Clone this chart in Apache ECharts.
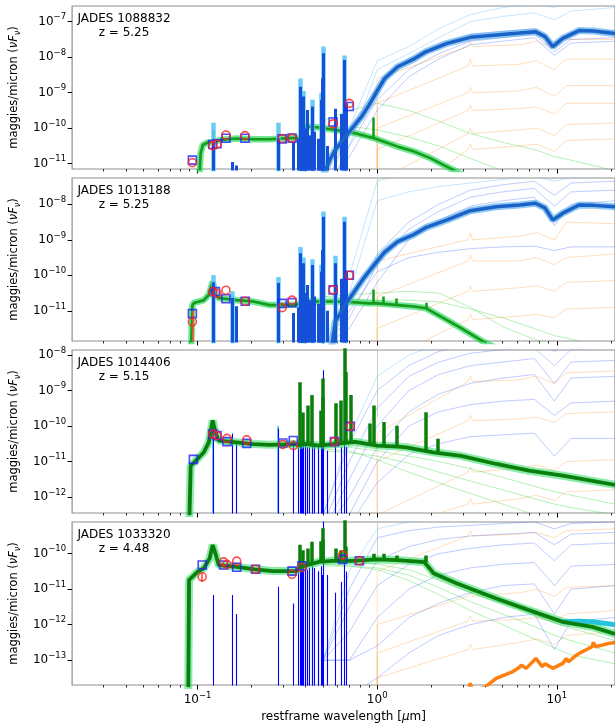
<!DOCTYPE html>
<html><head><meta charset="utf-8">
<script src="https://cdn.jsdelivr.net/npm/echarts@6.0.0/dist/echarts.min.js"></script>
<style>html,body{margin:0;padding:0;background:#fff;}#chart{width:615px;height:725px;}</style>
</head><body><div id="chart"></div>
<script>
// ===================== DATA (fluxes stored as log10 of maggies/micron) =====================
const panelNames = ['JADES 1088832', 'JADES 1013188', 'JADES 1014406', 'JADES 1033320'];
const panelRedshifts = ['z = 5.25', 'z = 5.25', 'z = 5.15', 'z = 4.48'];
const lamRange = [0.02, 21.1];
const xMajorTicks = [0.1, 1, 10];
const xMinorTicks = [0.03,0.04,0.05,0.06,0.07,0.08,0.09,0.2,0.3,0.4,0.5,0.6,0.7,0.8,0.9,2,3,4,5,6,7,8,9,20];
const yMinVals = [7.08e-12, 1.41e-12, 3.54e-13, 2.0e-14];
const yMaxVals = [2.77e-7, 5.51e-8, 1.384e-8, 7.82e-10];
const yTickVals = [[1e-11,1e-10,1e-9,1e-8,1e-7],[1e-11,1e-10,1e-9,1e-8],[1e-12,1e-11,1e-10,1e-9,1e-8],[1e-13,1e-12,1e-11,1e-10]];
const spikeFloorLogF = -14.5;

// shared wavelength grids
const irGrid  = [0.5, 0.7, 1.0, 1.5, 2.2, 3.3, 5, 7.5, 9.7, 12, 21.1];
const pahGrid = [1.0, 1.0, 3.2, 3.3, 3.4, 6.2, 7.7, 9.7, 11.3, 21.1];
const emLineLam = [0.1216,0.155,0.164,0.28,0.3426,0.3646,0.3727,0.3798,0.3835,0.3869,0.3889,0.397,0.4069,0.4102,0.42,0.434,0.4363,0.4471,0.4686,0.4713,0.4861,0.4959,0.5007,0.527,0.5876,0.63,0.6563,0.6724];

// ---------- Panel 1 ----------
const p1ObsLam  = [0.0935, 0.1213, 0.1283, 0.1438, 0.1835, 0.2958, 0.3356, 0.568, 0.699];
const p1ObsLogF = [-10.97, -10.49, -10.445, -10.19, -10.21, -10.29, -10.28, -9.88, -9.30];
const p1ModLam  = [0.0935, 0.1213, 0.1283, 0.1438, 0.1835, 0.2958, 0.3356, 0.568, 0.699];
const p1ModLogF = [-10.90, -10.46, -10.44, -10.285, -10.285, -10.30, -10.28, -9.825, -9.39];
const p1GreenLam  = [0.1017,0.1039,0.107,0.113,0.123,0.134,0.165,0.204,0.252,0.324,0.376,0.392,0.474,0.586,0.754,0.971,1.304,1.61,1.99,2.35,2.67,3.2];
const p1GreenLogF = [-11.6,-10.71,-10.47,-10.41,-10.38,-10.33,-10.29,-10.31,-10.31,-10.28,-10.27,-9.95,-9.98,-10.05,-10.14,-10.29,-10.52,-10.66,-10.85,-11.04,-11.18,-11.4];
const p1GreenLineLam  = [0.1216, 0.9532];
const p1GreenLineBase = [-10.38, -10.3];
const p1GreenLinePeak = [-10.05, -9.7];
const p1BlueLam  = [0.494,0.55,0.585,0.69,0.82,0.9,1.0,1.1,1.3,1.6,1.875,2.45,3.3,4.6,6.2,7.6,8.6,9.5,10.8,13.3,16,21.1];
const p1BlueLogF = [-11.4,-10.85,-10.61,-10.14,-9.67,-9.35,-8.95,-8.6,-8.27,-8.05,-7.84,-7.61,-7.44,-7.375,-7.32,-7.28,-7.42,-7.70,-7.47,-7.25,-7.26,-7.33];
const p1BlueLinePeak = [-10.4,-10.95,-11.05,-10.3,-10.4,-10.3,-8.83,-10.1,-10.2,-9.11,-9.9,-10.0,-10.3,-9.49,-10.2,-9.39,-10.0,-10.1,-10.3,-10.4,-9.2,-8.6,-7.89,-10.5,-9.45,-9.6,-8.08,-9.3];
const p1HaloLam  = [0.1216, 0.28, 0.3727, 0.3869, 0.434, 0.4861, 0.5007, 0.6563];
const p1HaloPeak = [-9.85, -9.85, -8.6, -8.95, -9.2, -9.0, -7.7, -7.95];
const p1ThinBlue = [
  [-12,-10.5,-9.2,-8.35,-7.9,-7.55,-7.45,-7.35,-7.85,-7.5,-7.45],
  [-12,-10.8,-9.5,-8.55,-8.05,-7.65,-7.55,-7.45,-7.95,-7.6,-7.55],
  [-11.8,-10.0,-8.85,-8.05,-7.65,-7.35,-7.27,-7.2,-7.6,-7.3,-7.25]];
const p1ThinCyan = [
  [-12,-10.0,-8.1,-7.7,-7.2,-6.8,-6.6,-6.5,-6.6,-6.4,-6.3],
  [-12,-10.5,-8.35,-7.9,-7.45,-7.0,-6.85,-6.75,-6.95,-6.7,-6.6]];
const p1ThinOrange = [
  [-13,-8.6,-7.7,-7.55,-7.7,-7.65,-7.55,-7.75,-7.5,-7.5],
  [-13,-9.3,-8.25,-8.05,-8.25,-8.2,-8.1,-8.35,-8.05,-8.05],
  [-13,-10.0,-9.0,-8.85,-9.0,-8.95,-8.85,-9.1,-8.8,-8.8],
  [-13,-10.6,-9.5,-9.35,-9.5,-9.45,-9.4,-9.6,-9.3,-9.3],
  [-13,-11.5,-10.15,-10.0,-10.15,-10.05,-10.0,-10.2,-9.9,-9.85],
  [-13,-12.5,-10.6,-10.45,-10.6,-10.5,-10.45,-10.65,-10.35,-10.3]];
const p1ThinGreen = [
  [-9.95,-9.95,-10.05,-10.25,-10.5,-10.85,-11.2,-11.5,-11.8,-11.9,-12.2],
  [-9.8,-9.5,-9.3,-9.5,-9.8,-10.15,-10.4,-10.6,-10.8,-10.9,-11.2]];

// ---------- Panel 2 ----------
const p2ObsLam  = [0.0935, 0.1213, 0.1283, 0.1438, 0.1842, 0.2958, 0.3356, 0.568, 0.699];
const p2ObsLogF = [-11.31, -10.46, -10.51, -10.42, -10.73, -10.91, -10.70, -10.41, -10.0];
const p2ModLam  = [0.0935, 0.1256, 0.1438, 0.1842, 0.2958, 0.3356, 0.568, 0.699];
const p2ModLogF = [-11.08, -10.46, -10.66, -10.73, -10.79, -10.77, -10.41, -10.0];
const p2ErrLam = [0.0935], p2ErrLow = [-12.5], p2ErrHigh = [-11.0];
const p2GreenLam  = [0.0915,0.0935,0.0954,0.1083,0.1154,0.1213,0.1256,0.131,0.165,0.204,0.252,0.324,0.36,0.392,0.474,0.65,0.9,1.0,1.3,1.6,1.875,2.45,2.93,3.9,4.6];
const p2GreenLogF = [-12.5,-10.85,-10.78,-10.70,-10.55,-10.18,-10.55,-10.64,-10.70,-10.74,-10.84,-10.84,-10.82,-10.72,-10.74,-10.74,-10.79,-10.79,-10.84,-10.88,-10.93,-11.26,-11.49,-11.87,-12.05];
const p2GreenLineLam  = [0.3727, 0.434, 0.5007, 0.6563, 0.9532, 1.083, 1.282, 1.875];
const p2GreenLineBase = [-10.72, -10.73, -10.74, -10.74, -10.79, -10.8, -10.84, -10.93];
const p2GreenLinePeak = [-10.2, -10.4, -9.6, -9.2, -10.4, -10.6, -10.65, -10.77];
const p2BlueLam  = [0.54,0.585,0.69,0.85,1.0,1.1,1.3,1.6,1.875,2.45,3.3,4.6,6.2,7.6,8.6,9.5,10.8,13.3,16,21.1];
const p2BlueLogF = [-12.5,-11.3,-10.7,-10.05,-9.6,-9.35,-9.05,-8.85,-8.65,-8.44,-8.18,-8.07,-8.02,-7.97,-8.1,-8.44,-8.25,-8.02,-8.03,-8.07];
const p2BlueLinePeak = [-10.2,-10.64,-10.87,-10.22,-11.06,-10.9,-9.38,-10.6,-10.7,-9.66,-10.4,-10.5,-10.8,-10.27,-10.7,-9.71,-10.5,-10.6,-10.8,-10.9,-9.9,-9.29,-8.35,-11.0,-9.66,-10.1,-8.49,-9.9];
const p2HaloLam  = [0.1216, 0.155, 0.28, 0.3727, 0.3869, 0.434, 0.4861, 0.5007, 0.5876, 0.6563];
const p2HaloPeak = [-9.99, -10.45, -10.05, -9.2, -9.5, -9.55, -9.7, -8.2, -9.45, -8.35];
const p2GrayVert = [-7.0, -9.85];
const p2ThinBlue = [
  [-12,-10.8,-9.4,-8.5,-8.0,-7.6,-7.45,-7.35,-7.75,-7.4,-7.35],
  [-12,-11.2,-9.7,-8.7,-8.2,-7.8,-7.65,-7.55,-8.05,-7.65,-7.6],
  [-12,-11.5,-10.2,-9.0,-8.45,-8.05,-7.9,-7.8,-8.6,-8.0,-7.9],
  [-12,-11.0,-9.9,-9.5,-9.35,-9.25,-9.2,-9.18,-9.3,-9.2,-9.2]];
const p2ThinCyan = [
  [-12,-10.0,-7.35,-7.1,-6.9,-6.8,-6.7,-6.6,-6.75,-6.6,-6.5],
  [-12,-10.5,-7.9,-7.65,-7.5,-7.4,-7.3,-7.2,-7.35,-7.25,-7.2]];
const p2ThinOrange = [
  [-13,-9.6,-9.0,-8.8,-9.0,-8.9,-8.8,-9.0,-8.5,-8.55],
  [-13,-10.6,-9.6,-9.43,-9.6,-9.6,-9.5,-9.7,-9.5,-9.4],
  [-13,-11.5,-10.45,-10.3,-10.45,-10.35,-10.3,-10.45,-10.2,-10.15],
  [-13,-12.5,-11.25,-11.1,-11.25,-11.15,-11.1,-11.2,-10.95,-10.9]];
const p2ThinGreen = [
  [-10.6,-10.65,-10.7,-10.7,-10.75,-10.95,-11.2,-11.5,-11.7,-11.8,-12.1],
  [-10.6,-10.55,-10.5,-10.45,-10.5,-10.9,-11.45,-11.8,-12.0,-12.1,-12.4]];

// ---------- Panel 3 ----------
const p3ObsLam  = [0.1213, 0.1283, 0.1457, 0.1876, 0.2981, 0.3411, 0.578, 0.708];
const p3ObsLogF = [-10.23, -10.27, -10.35, -10.39, -10.52, -10.55, -10.44, -10.01];
const p3ModLam  = [0.0947, 0.1213, 0.1283, 0.1457, 0.1876, 0.2981, 0.3411, 0.578, 0.708];
const p3ModLogF = [-10.94, -10.23, -10.27, -10.44, -10.49, -10.48, -10.41, -10.44, -10.01];
const p3GreenLam  = [0.0896,0.0915,0.0954,0.1083,0.1154,0.1213,0.1256,0.131,0.165,0.204,0.252,0.353,0.37,0.39,0.474,0.754,1.0,1.3,1.45,2.05,2.93,4.6,7.0,10.8,21.1];
const p3GreenLogF = [-13,-11.12,-11.03,-10.74,-10.46,-9.84,-10.18,-10.41,-10.46,-10.51,-10.53,-10.51,-10.55,-10.5,-10.55,-10.45,-10.55,-10.58,-10.6,-10.74,-10.84,-11.07,-11.26,-11.40,-11.66];
const p3GreenLineLam  = [0.3727,0.3869,0.4102,0.434,0.4861,0.4959,0.5007,0.5876,0.63,0.6563,0.6724,0.7136,0.9069,0.9532,1.083,1.282,1.875,2.166];
const p3GreenLinePeak = [-8.77,-9.62,-9.42,-9.13,-9.56,-9.2,-8.66,-9.36,-9.28,-7.7,-8.48,-9.13,-9.93,-9.42,-9.89,-9.99,-9.61,-10.36];
const p3GreenLineBase = [-10.55,-10.5,-10.52,-10.53,-10.55,-10.55,-10.55,-10.5,-10.48,-10.47,-10.47,-10.46,-10.54,-10.55,-10.56,-10.58,-10.7,-10.74];
const p3BlueLinePeak = [-10.2,-10.21,-10.5,-10.07,-10.4,-10.6,-10.45,-10.5,-10.6,-10.5,-10.45,-10.5,-10.6,-10.6,-10.6,-10.55,-10.5,-10.55,-10.6,-10.65,-10.5,-10.6,-8.43,-10.7,-10.5,-10.6,-10.3,-10.6];
const p3HaloLam  = [0.1216, 0.28];
const p3HaloPeak = [-9.89, -10.0];
const p3GrayVert = [-7.5, -9.75];
const p3ThinBlue = [
  [-12.5,-10.5,-9.0,-8.3,-7.9,-7.7,-7.6,-7.55,-7.9,-7.6,-7.6],
  [-12.8,-11.0,-9.5,-8.6,-8.2,-7.95,-7.85,-7.8,-8.3,-7.85,-7.8],
  [-13,-11.5,-10.0,-9.0,-8.55,-8.3,-8.2,-8.1,-8.8,-8.2,-8.15],
  [-13,-12.0,-10.6,-9.6,-9.1,-8.8,-8.65,-8.55,-9.3,-8.65,-8.6],
  [-13,-12.5,-11.0,-10.0,-9.6,-9.4,-9.3,-9.25,-9.7,-9.35,-9.3],
  [-13,-12.8,-11.6,-10.8,-10.5,-10.3,-10.25,-10.2,-10.85,-10.35,-10.35]];
const p3ThinCyan = [
  [-12.5,-10.3,-8.6,-8.0,-7.7,-7.5,-7.4,-7.3,-7.5,-7.3,-7.25]];
const p3ThinOrange = [
  [-13,-10.2,-8.75,-8.6,-8.75,-8.7,-8.6,-8.8,-8.5,-8.45],
  [-13,-11.0,-9.85,-9.7,-9.85,-9.8,-9.75,-9.9,-9.65,-9.6],
  [-13,-12.5,-11.3,-11.15,-11.3,-11.2,-11.1,-11.25,-11.0,-10.95],
  [-13,-13,-12.2,-12.05,-12.2,-12.05,-11.95,-12.1,-11.85,-11.8]];
const p3ThinGreen = [
  [-10.6,-10.6,-10.7,-10.85,-11.0,-11.2,-11.45,-11.7,-11.85,-11.95,-12.2],
  [-10.7,-10.75,-10.85,-11.05,-11.3,-11.55,-11.8,-12.05,-12.2,-12.3,-12.5],
  [-10.65,-10.7,-10.95,-11.3,-11.6,-11.9,-12.2,-12.5,-12.7,-12.8,-13]];

// ---------- Panel 4 ----------
const p4ObsLam  = [0.1061, 0.1395, 0.1457, 0.165, 0.2102, 0.3356, 0.3808, 0.642, 0.796];
const p4ObsLogF = [-10.65, -10.23, -10.30, -10.21, -10.44, -10.58, -10.39, -10.04, -10.20];
const p4ModLam  = [0.1061, 0.1395, 0.165, 0.2102, 0.3356, 0.3808, 0.642, 0.796];
const p4ModLogF = [-10.32, -10.32, -10.38, -10.44, -10.49, -10.34, -10.16, -10.20];
const p4ErrLam = [0.1061], p4ErrLow = [-10.8], p4ErrHigh = [-10.55];
const p4GreenLam  = [0.0887,0.0896,0.0935,0.0998,0.1083,0.1167,0.1213,0.1256,0.131,0.165,0.208,0.2626,0.353,0.376,0.474,0.561,0.722,1.0,1.3,1.83,1.95,2.06,2.76,4.6,7.0,10.8,15.8,21.1];
const p4GreenLogF = [-14,-10.74,-10.65,-10.51,-10.41,-10.13,-9.755,-9.99,-10.32,-10.37,-10.44,-10.49,-10.49,-10.37,-10.23,-10.20,-10.20,-10.16,-10.18,-10.24,-10.4,-10.55,-10.83,-11.26,-11.59,-11.92,-12.06,-12.26];
const p4GreenLineLam  = [0.3727,0.3869,0.4102,0.434,0.4861,0.4959,0.5007,0.5876,0.63,0.6563,0.6724,0.9532,1.083,1.282,1.875];
const p4GreenLinePeak = [-9.75,-9.9,-9.85,-9.66,-9.65,-9.6,-9.28,-9.85,-9.9,-8.9,-9.8,-10.0,-10.0,-10.05,-10.05];
const p4GreenLineBase = [-10.37,-10.35,-10.32,-10.3,-10.25,-10.24,-10.24,-10.21,-10.2,-10.2,-10.2,-10.17,-10.16,-10.17,-10.24];
const p4BlueLinePeak = [-11.16,-11.16,-11.7,-10.93,-11.4,-10.4,-10.3,-10.35,-10.4,-10.4,-10.3,-10.35,-10.45,-10.5,-10.4,-10.4,-10.35,-10.4,-10.5,-10.5,-10.35,-10.6,-8.9,-10.6,-11.1,-10.8,-10.0,-10.5];
const p4OrangeLam  = [3.2,3.3,3.4,4.0,4.6,5.7,6.2,6.35,6.75,7.65,8.3,8.6,9.5,10.8,11.3,11.6,12.7,13.3,15.7,16.0,16.4,19.8,21.1];
const p4OrangeLogF = [-13.9,-13.65,-13.9,-13.75,-13.51,-13.32,-13.2,-13.14,-13.23,-12.95,-13.18,-13.1,-13.23,-13.09,-12.95,-13.05,-12.88,-12.81,-12.62,-12.5,-12.62,-12.52,-12.5];
const p4CyanLam  = [10.8, 13.3, 15.8, 19.8, 21.1];
const p4CyanLogF = [-11.92, -11.9, -11.92, -11.98, -12.0];
const p4GrayVert = [-8.5, -10.1];
const p4ThinBlue = [
  [-13,-11.0,-9.55,-9.35,-9.25,-9.2,-9.15,-9.1,-9.3,-9.15,-9.1],
  [-13,-11.5,-10.2,-9.8,-9.6,-9.5,-9.45,-9.4,-9.75,-9.45,-9.4],
  [-13,-12.2,-10.9,-10.3,-10.0,-9.85,-9.75,-9.7,-10.2,-9.75,-9.7],
  [-13,-13,-11.8,-11.0,-10.6,-10.4,-10.3,-10.25,-10.9,-10.35,-10.3],
  [-13,-13,-12.6,-11.8,-11.4,-11.1,-10.9,-10.85,-11.7,-11.0,-10.9],
  [-14,-14,-13.5,-12.8,-12.3,-12.0,-11.8,-11.7,-12.7,-11.9,-11.8]];
const p4ThinCyan = [
  [-13,-10.5,-9.3,-9.1,-8.95,-8.85,-8.8,-8.75,-8.9,-8.8,-8.75]];
const p4ThinOrange = [
  [-14,-10.5,-9.5,-9.35,-9.5,-9.45,-9.4,-9.55,-9.35,-9.3],
  [-14,-12.0,-11.2,-11.05,-11.2,-11.1,-11.0,-11.2,-10.95,-10.9],
  [-14,-12.8,-11.9,-11.75,-11.9,-11.85,-11.8,-11.95,-11.7,-11.6],
  [-14,-13.5,-12.7,-12.55,-12.7,-12.5,-12.4,-12.55,-12.3,-12.2]];
const p4ThinGreen = [
  [-10.25,-10.25,-10.3,-10.45,-10.75,-11.1,-11.4,-11.7,-11.95,-12.1,-12.45],
  [-10.35,-10.35,-10.4,-10.6,-10.95,-11.35,-11.7,-12.05,-12.3,-12.45,-12.8],
  [-10.3,-10.35,-10.45,-10.75,-11.15,-11.6,-12.0,-12.4,-12.65,-12.85,-13.1]];

// ===================== BUILD =====================
const FONT = 'DejaVu Sans';
const gridTops = [6, 178, 350, 522];
const gridH = 163;
const P10 = v => Math.pow(10, v);
const curve = (lam, lf) => lam.map((x, k) => [x, P10(lf[k])]);
const segs = (lam, base, peak) => lam.map((x, k) => ({coords: [[x, P10(Array.isArray(base) ? base[k] : base)], [x, P10(peak[k])]]}));
const polys = (grid, rows) => rows.map(r => ({coords: grid.map((x, k) => [x, P10(r[k])])}));

const panels = [
  {obsLam:p1ObsLam, obsLF:p1ObsLogF, modLam:p1ModLam, modLF:p1ModLogF, gLam:p1GreenLam, gLF:p1GreenLogF,
   glLam:p1GreenLineLam, glBase:p1GreenLineBase, glPeak:p1GreenLinePeak, bLam:p1BlueLam, bLF:p1BlueLogF,
   blPeak:p1BlueLinePeak, hLam:p1HaloLam, hPeak:p1HaloPeak, tB:p1ThinBlue, tC:p1ThinCyan, tO:p1ThinOrange, tG:p1ThinGreen, bold:false},
  {obsLam:p2ObsLam, obsLF:p2ObsLogF, modLam:p2ModLam, modLF:p2ModLogF, gLam:p2GreenLam, gLF:p2GreenLogF,
   glLam:p2GreenLineLam, glBase:p2GreenLineBase, glPeak:p2GreenLinePeak, bLam:p2BlueLam, bLF:p2BlueLogF,
   blPeak:p2BlueLinePeak, hLam:p2HaloLam, hPeak:p2HaloPeak, tB:p2ThinBlue, tC:p2ThinCyan, tO:p2ThinOrange, tG:p2ThinGreen,
   err:[p2ErrLam, p2ErrLow, p2ErrHigh], gray:p2GrayVert, bold:false},
  {obsLam:p3ObsLam, obsLF:p3ObsLogF, modLam:p3ModLam, modLF:p3ModLogF, gLam:p3GreenLam, gLF:p3GreenLogF,
   glLam:p3GreenLineLam, glBase:p3GreenLineBase, glPeak:p3GreenLinePeak,
   blPeak:p3BlueLinePeak, hLam:p3HaloLam, hPeak:p3HaloPeak, tB:p3ThinBlue, tC:p3ThinCyan, tO:p3ThinOrange, tG:p3ThinGreen,
   gray:p3GrayVert, bold:true},
  {obsLam:p4ObsLam, obsLF:p4ObsLogF, modLam:p4ModLam, modLF:p4ModLogF, gLam:p4GreenLam, gLF:p4GreenLogF,
   glLam:p4GreenLineLam, glBase:p4GreenLineBase, glPeak:p4GreenLinePeak,
   blPeak:p4BlueLinePeak, tB:p4ThinBlue, tC:p4ThinCyan, tO:p4ThinOrange, tG:p4ThinGreen,
   err:[p4ErrLam, p4ErrLow, p4ErrHigh], gray:p4GrayVert, orange:[p4OrangeLam, p4OrangeLogF], cyan:[p4CyanLam, p4CyanLogF], bold:true}
];

function powLabel(v) {
  const e = Math.round(Math.log10(v));
  return '{b|10}{s|' + (e < 0 ? '\u2212' + Math.abs(e) : String(e)) + '}';
}
const tickRich = {
  b: {fontSize: 12, fontFamily: FONT, color: '#000', lineHeight: 18, verticalAlign: 'middle'},
  s: {fontSize: 8.5, fontFamily: FONT, color: '#000', lineHeight: 10, verticalAlign: 'top'}
};

const grids = [], xAxes = [], yAxes = [], series = [], graphics = [];
panels.forEach((P, i) => {
  grids.push({left: 70, width: 550, top: gridTops[i], height: gridH, show: true,
    borderColor: '#8f8f8f', borderWidth: 1.2, backgroundColor: 'transparent'});
  xAxes[i] = {type: 'log', gridIndex: i, min: lamRange[0], max: lamRange[1], position: 'bottom',
    axisLine: {show: false}, splitLine: {show: false},
    axisTick: {show: true, customValues: xMajorTicks, length: 4.5, lineStyle: {color: '#000', width: 1}},
    axisLabel: {show: i === 3, customValues: xMajorTicks, margin: 6, formatter: powLabel, rich: tickRich},
    name: i === 3 ? 'restframe wavelength [{i|\u03bc}m]' : '', nameLocation: 'middle', nameGap: 26,
    nameTextStyle: {fontSize: 12, fontFamily: FONT, color: '#000', rich: {i: {fontSize: 12, fontFamily: FONT, fontStyle: 'italic', color: '#000'}}}};
  xAxes[4 + i] = {type: 'log', gridIndex: i, min: lamRange[0], max: lamRange[1], position: 'bottom',
    axisLine: {show: false}, splitLine: {show: false}, axisLabel: {show: false},
    axisTick: {show: true, customValues: xMinorTicks, length: 2.5, lineStyle: {color: '#000', width: 0.8}}};
  yAxes[i] = {type: 'log', gridIndex: i, min: yMinVals[i], max: yMaxVals[i],
    axisLine: {show: false}, splitLine: {show: false},
    axisTick: {show: true, customValues: yTickVals[i], length: 4.5, lineStyle: {color: '#000', width: 1}},
    axisLabel: {customValues: yTickVals[i], margin: 6, formatter: powLabel, rich: tickRich},
    name: '{n|maggies/micron (}{i|\u03bdF}{u|\u03bd}{n|)}', nameLocation: 'middle', nameRotate: 90, nameGap: 46,
    nameTextStyle: {rich: {
      n: {fontSize: 11.5, fontFamily: FONT, color: '#000', lineHeight: 16, verticalAlign: 'middle'},
      i: {fontSize: 11.5, fontFamily: FONT, color: '#000', fontStyle: 'italic', lineHeight: 16, verticalAlign: 'middle'},
      u: {fontSize: 8, fontFamily: FONT, color: '#000', fontStyle: 'italic', lineHeight: 9, verticalAlign: 'bottom'}}}};

  const ax = {xAxisIndex: i, yAxisIndex: i, animation: false, silent: true};
  const thin = (rows, grid, color, op) => series.push(Object.assign({type: 'lines', coordinateSystem: 'cartesian2d',
    polyline: true, data: polys(grid, rows), lineStyle: {color: color, width: 1, opacity: op}, z: 1}, ax));
  thin(P.tO, pahGrid, '#ffa040', 0.35);
  thin(P.tG, irGrid, '#2fd82f', 0.35);
  thin(P.tB, irGrid, '#2f55ff', 0.3);
  thin(P.tC, irGrid, '#5ab8ff', 0.35);
  if (P.gray) series.push(Object.assign({type: 'lines', coordinateSystem: 'cartesian2d',
    data: segs([1.0], P.gray[1], [P.gray[0]]), lineStyle: {color: '#a9bfa6', width: 1, opacity: 0.7}, z: 1}, ax));

  // thin blue model emission lines (continuum below the axis)
  if (P.bold) series.push(Object.assign({type: 'lines', coordinateSystem: 'cartesian2d',
    data: segs(emLineLam, spikeFloorLogF, P.blPeak), lineStyle: {color: '#0000ff', width: 1.1, opacity: 1}, z: 3}, ax));
  if (P.hLam) series.push(Object.assign({type: 'lines', coordinateSystem: 'cartesian2d',
    data: segs(P.hLam, spikeFloorLogF, P.hPeak), lineStyle: {color: '#5cc6f5', width: P.bold ? 2 : 4.5, opacity: 0.9}, z: P.bold ? 2 : 7}, ax));

  // green model
  series.push(Object.assign({type: 'line', data: curve(P.gLam, P.gLF), symbol: 'none',
    lineStyle: {color: '#30dc66', width: P.bold ? 8 : 6.5, opacity: P.bold ? 0.55 : 0.7}, z: 4}, ax));
  series.push(Object.assign({type: 'lines', coordinateSystem: 'cartesian2d', data: segs(P.glLam, P.glBase, P.glPeak),
    lineStyle: {color: P.bold ? '#0b7f0b' : '#169a1a', width: P.bold ? 3.5 : 2.5, opacity: 1}, z: 5}, ax));
  series.push(Object.assign({type: 'line', data: curve(P.gLam, P.gLF), symbol: 'none',
    lineStyle: {color: P.bold ? '#0b7f0b' : '#169a1a', width: P.bold ? 3.8 : 2.6}, z: 5}, ax));

  // blue (dusty) model with thick emission lines
  if (P.bLam) {
    series.push(Object.assign({type: 'line', data: curve(P.bLam, P.bLF), symbol: 'none',
      lineStyle: {color: '#5fb0ee', width: 7, opacity: 0.7}, z: 7}, ax));
    series.push(Object.assign({type: 'lines', coordinateSystem: 'cartesian2d',
      data: segs(emLineLam, spikeFloorLogF, P.blPeak), lineStyle: {color: '#1450d8', width: 3, opacity: 1}, z: 8}, ax));
    series.push(Object.assign({type: 'line', data: curve(P.bLam, P.bLF), symbol: 'none',
      lineStyle: {color: '#1a62c8', width: 3.5}, z: 8}, ax));
  }
  if (P.cyan) series.push(Object.assign({type: 'line', data: curve(P.cyan[0], P.cyan[1]), symbol: 'none',
    lineStyle: {color: '#27c3da', width: 5}, z: 4}, ax));
  if (P.orange) series.push(Object.assign({type: 'line', data: curve(P.orange[0], P.orange[1]), symbol: 'none',
    lineStyle: {color: '#ff7f0e', width: 3.5}, z: 6}, ax));
  if (P.err) series.push(Object.assign({type: 'lines', coordinateSystem: 'cartesian2d',
    data: segs(P.err[0], P.err[1], P.err[2]), lineStyle: {color: '#ff4a2a', width: 1.5, opacity: 1}, z: 9}, ax));

  // photometry
  series.push(Object.assign({type: 'scatter', data: curve(P.modLam, P.modLF), symbol: 'rect', symbolSize: 8,
    itemStyle: {color: 'transparent', borderColor: '#1f1fff', borderWidth: 1.6}, z: 10}, ax));
  series.push(Object.assign({type: 'scatter', data: curve(P.obsLam, P.obsLF), symbol: 'circle', symbolSize: 8,
    itemStyle: {color: 'transparent', borderColor: '#ff2222', borderWidth: 1.6}, z: 11}, ax));

  graphics.push({type: 'text', x: 124, y: gridTops[i] + 6, z: 100,
    style: {text: panelNames[i] + '\n' + panelRedshifts[i], fill: '#000', fontSize: 12, fontFamily: FONT,
      align: 'center', verticalAlign: 'top', lineHeight: 14}});
});

const chart = echarts.init(document.getElementById('chart'), null, {renderer: 'canvas'});
chart.setOption({animation: false, backgroundColor: '#fff', grid: grids, xAxis: xAxes, yAxis: yAxes, series: series, graphic: graphics});
</script></body></html>
